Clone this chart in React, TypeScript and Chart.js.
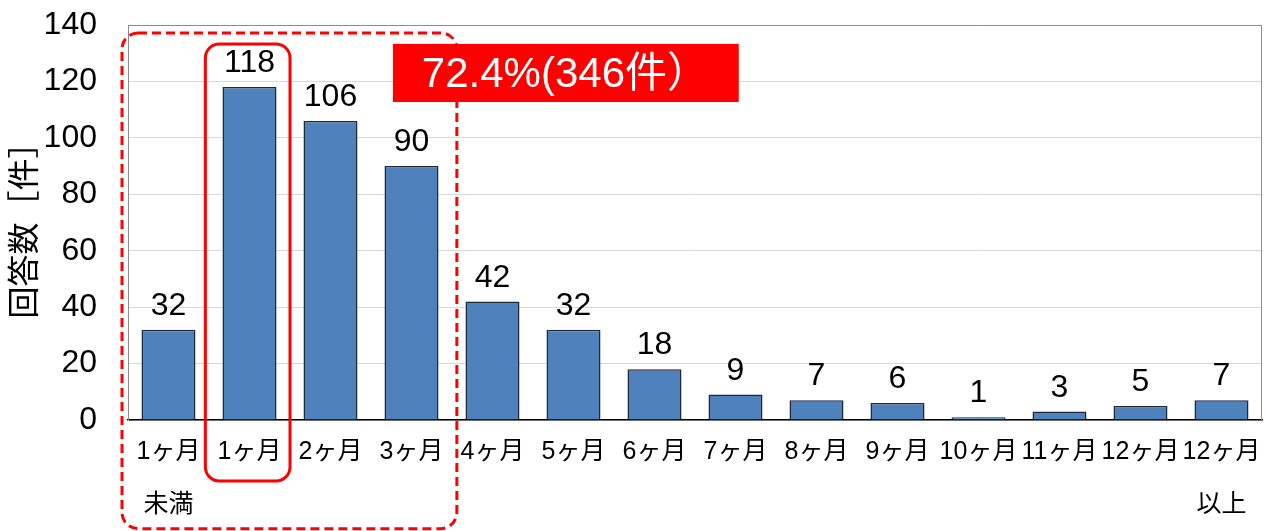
import { useEffect, useRef } from "react";
import { Chart, registerables } from "chart.js";

Chart.register(...registerables);

const categories: (string | string[])[] = [
  ["1ヶ月", "未満"],
  "1ヶ月",
  "2ヶ月",
  "3ヶ月",
  "4ヶ月",
  "5ヶ月",
  "6ヶ月",
  "7ヶ月",
  "8ヶ月",
  "9ヶ月",
  "10ヶ月",
  "11ヶ月",
  "12ヶ月",
  ["12ヶ月", "以上"],
];
const counts = [32, 118, 106, 90, 42, 32, 18, 9, 7, 6, 1, 3, 5, 7];
const yMin = 0;
const yMax = 140;
const yStep = 20;
const yTitle = "回答数［件］";
const highlightText = "72.4%(346件）";

const FONT = 'Arial, "Liberation Sans", "Noto Sans CJK JP", sans-serif';

function roundRect(ctx: CanvasRenderingContext2D, x0: number, y0: number, x1: number, y1: number, r: number) {
  ctx.beginPath();
  ctx.moveTo(x0 + r, y0);
  ctx.lineTo(x1 - r, y0);
  ctx.arcTo(x1, y0, x1, y0 + r, r);
  ctx.lineTo(x1, y1 - r);
  ctx.arcTo(x1, y1, x1 - r, y1, r);
  ctx.lineTo(x0 + r, y1);
  ctx.arcTo(x0, y1, x0, y1 - r, r);
  ctx.lineTo(x0, y0 + r);
  ctx.arcTo(x0, y0, x0 + r, y0, r);
  ctx.closePath();
}

const decorPlugin = {
  id: "decor",
  beforeDatasetsDraw(chart: any) {
    const { ctx, chartArea } = chart;
    ctx.save();
    ctx.strokeStyle = "#8c8c8c";
    ctx.lineWidth = 1;
    ctx.beginPath();
    ctx.moveTo(chartArea.left + 0.5, chartArea.top + 0.5);
    ctx.lineTo(chartArea.right - 0.5, chartArea.top + 0.5);
    ctx.lineTo(chartArea.right - 0.5, chartArea.bottom);
    ctx.stroke();
    ctx.restore();
  },
  afterDatasetsDraw(chart: any) {
    const { ctx } = chart;
    const meta = chart.getDatasetMeta(0);
    ctx.save();
    ctx.fillStyle = "#000";
    ctx.font = `32px ${FONT}`;
    ctx.textAlign = "center";
    ctx.textBaseline = "alphabetic";
    meta.data.forEach((bar: any, i: number) => {
      ctx.fillText(String(counts[i]), bar.x, bar.y - 15);
    });
    ctx.restore();
  },
  afterDraw(chart: any) {
    const { ctx } = chart;
    const xs = chart.scales.x;
    const ys = chart.scales.y;
    ctx.save();
    ctx.strokeStyle = "#ff0000";
    ctx.lineWidth = 3;
    ctx.setLineDash([9, 5]);
    roundRect(ctx, xs.getPixelForValue(-0.574), ys.getPixelForValue(137.2), xs.getPixelForValue(3.56), ys.getPixelForValue(-38.5), 16);
    ctx.stroke();
    ctx.setLineDash([]);
    roundRect(ctx, xs.getPixelForValue(0.455), ys.getPixelForValue(133.3), xs.getPixelForValue(1.5), ys.getPixelForValue(-21.6), 14);
    ctx.stroke();
    const bx0 = xs.getPixelForValue(2.77);
    const bx1 = xs.getPixelForValue(7.04);
    const by0 = ys.getPixelForValue(133.3);
    const by1 = ys.getPixelForValue(112.7);
    ctx.fillStyle = "#ff0000";
    ctx.fillRect(bx0, by0, bx1 - bx0, by1 - by0);
    ctx.fillStyle = "#ffffff";
    ctx.font = `42px ${FONT}`;
    ctx.textAlign = "left";
    ctx.textBaseline = "middle";
    ctx.fillText(highlightText, bx0 + 29, (by0 + by1) / 2 + 2);
    ctx.restore();
  },
};

export default function App() {
  const ref = useRef<HTMLCanvasElement>(null);
  useEffect(() => {
    document.body.style.margin = "0";
    const chart = new Chart(ref.current!, {
      type: "bar",
      data: {
        labels: categories,
        datasets: [
          {
            data: counts,
            backgroundColor: "#4f81bd",
            borderColor: "#1c2a3a",
            borderWidth: 1.5,
            barPercentage: 0.667,
            categoryPercentage: 1,
          },
        ],
      },
      options: {
        animation: false,
        responsive: false,
        maintainAspectRatio: false,
        layout: { padding: { top: 25, right: 7, left: 0, bottom: 0 } },
        plugins: { legend: { display: false }, tooltip: { enabled: false } },
        scales: {
          x: {
            grid: { display: false, drawTicks: false },
            border: { display: true, color: "#000", width: 1.5 },
            ticks: {
              color: "#000",
              font: { family: FONT, size: 25, lineHeight: 2.12 },
              padding: 6,
              maxRotation: 0,
              autoSkip: false,
            },
            afterFit: (s: any) => {
              s.height = 111;
              s.paddingLeft = 0;
              s.paddingRight = 0;
            },
          },
          y: {
            min: yMin,
            max: yMax,
            grid: { color: "#d9d9d9", drawTicks: false },
            border: { display: true, color: "#8c8c8c", width: 1 },
            ticks: {
              stepSize: yStep,
              color: "#000",
              font: { family: FONT, size: 32 },
              padding: 31,
            },
            title: {
              display: true,
              text: yTitle,
              color: "#000",
              font: { family: FONT, size: 32 },
              padding: { top: 7, bottom: 0 },
            },
            afterFit: (s: any) => {
              s.width = 128;
              s.paddingTop = 0;
              s.paddingBottom = 0;
            },
          },
        },
      },
      plugins: [decorPlugin],
    });
    return () => chart.destroy();
  }, []);
  return <canvas ref={ref} width={1269} height={531} style={{ display: "block" }} />;
}
